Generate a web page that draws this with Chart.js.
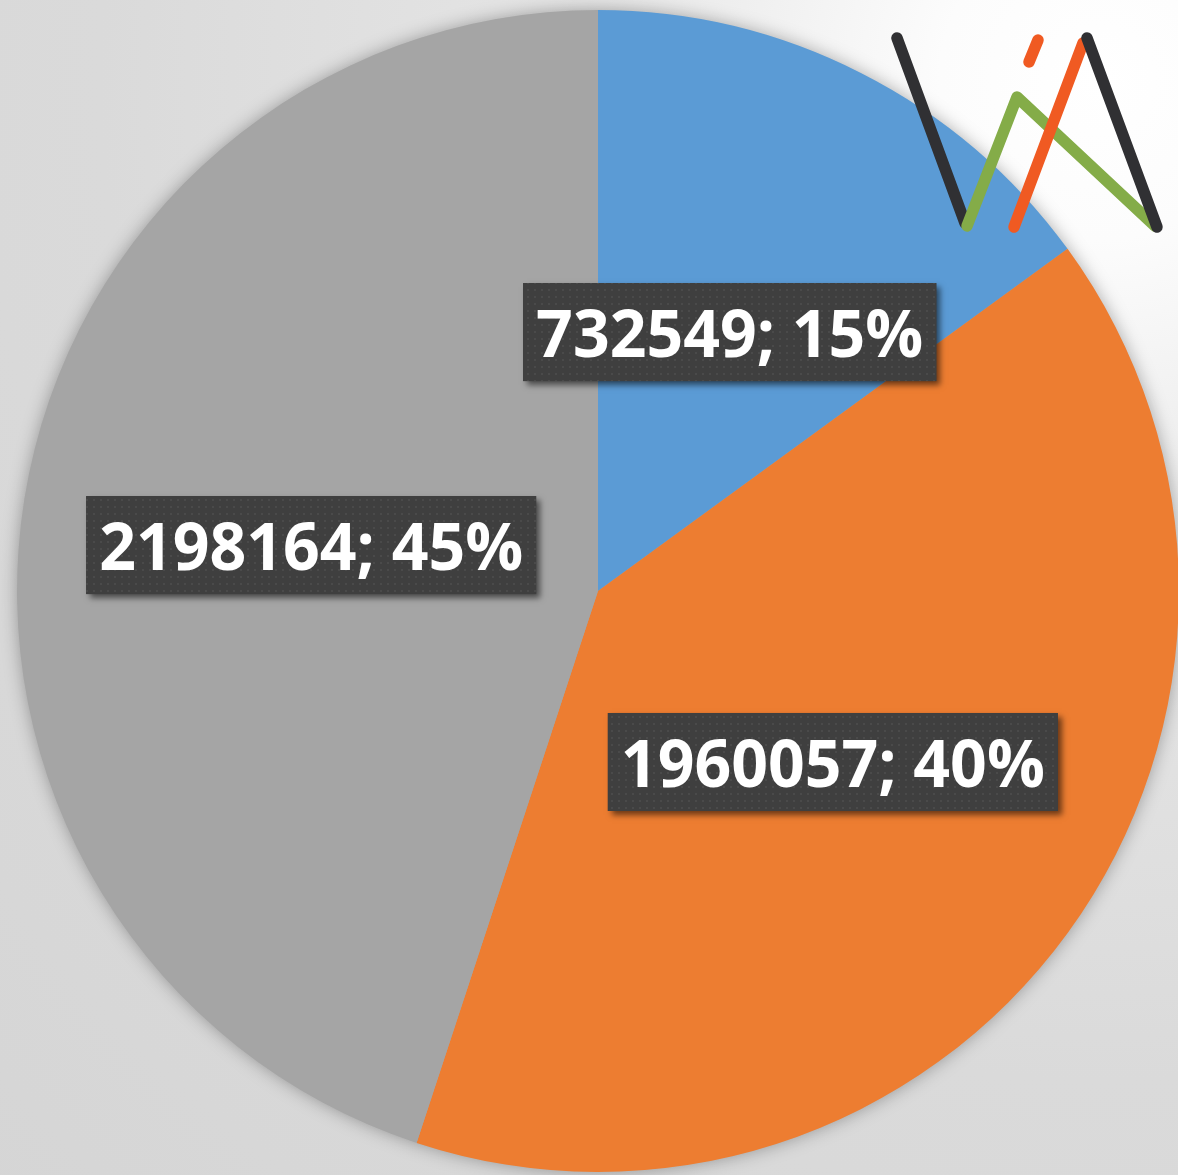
<!DOCTYPE html>
<html>
<head>
<meta charset="utf-8">
<script src="https://cdn.jsdelivr.net/npm/chart.js@4"></script>
<style>
  html, body { margin: 0; padding: 0; overflow: hidden; }
  body { width: 1178px; height: 1175px; }
  .pie-wrap {
    position: relative;
    width: 1196px;
    height: 1175px;
    background: radial-gradient(circle at 1100px 80px, #ffffff 0px, #fcfcfc 160px, #e5e5e5 520px, #dadada 1000px, #d5d5d5 1600px);
  }
  .logo { position: absolute; left: 0; top: 0; pointer-events: none; }
</style>
</head>
<body>
<div class="pie-wrap">
  <canvas id="myChart"></canvas>
  <svg class="logo" width="1178" height="260" viewBox="0 0 1178 260">
    <g fill="none" stroke-width="11.5" stroke-linecap="round" stroke-linejoin="round">
      <line x1="897" y1="38" x2="965" y2="223" stroke="#303033"/>
      <polyline points="967,226 1017,97 1155,226" stroke="#84ac48"/>
      <line x1="1038" y1="40" x2="1029" y2="62" stroke="#f05a22"/>
      <line x1="1014" y1="227" x2="1083" y2="43" stroke="#f05a22"/>
      <line x1="1087" y1="38" x2="1157" y2="227" stroke="#303033"/>
    </g>
  </svg>
</div>
<script>
const categories = ['A', 'B', 'C'];
const values = [732549, 1960057, 2198164];
const sliceColors = ['#5b9bd5', '#ed7d31', '#a5a5a5'];

// dotted dark fill for the data label boxes
const makeDotPattern = (ctx) => {
  const tile = document.createElement('canvas');
  tile.width = 7;
  tile.height = 7;
  const t = tile.getContext('2d');
  t.fillStyle = '#3f3f3f';
  t.fillRect(0, 0, 7, 7);
  t.fillStyle = '#4a4a4a';
  t.fillRect(2, 2, 2, 2);
  return ctx.createPattern(tile, 'repeat');
};

// soft shadow behind the whole pie
const pieShadow = {
  id: 'pieShadow',
  beforeDatasetsDraw(chart) {
    const arc = chart.getDatasetMeta(0).data[0];
    if (!arc) return;
    const ctx = chart.ctx;
    ctx.save();
    ctx.shadowColor = 'rgba(0, 0, 0, 0.35)';
    ctx.shadowBlur = 18;
    ctx.fillStyle = '#a5a5a5';
    ctx.beginPath();
    ctx.arc(arc.x, arc.y, arc.outerRadius - 1, 0, Math.PI * 2);
    ctx.fill();
    ctx.restore();
  }
};

const valueLabels = {
  id: 'valueLabels',
  afterDatasetsDraw(chart) {
    const ctx = chart.ctx;
    const meta = chart.getDatasetMeta(0);
    const total = values.reduce((a, b) => a + b, 0);
    const pattern = makeDotPattern(ctx);
    const squeeze = 0.96; // narrower glyphs, closer to Calibri
    ctx.save();
    ctx.font = 'bold 67px "Open Sans"';
    meta.data.forEach((arc, i) => {
      const pos = arc.tooltipPosition();
      const text = values[i] + '; ' + Math.round(values[i] / total * 100) + '%';
      const w = ctx.measureText(text).width * squeeze;
      const boxW = w + 26;
      const boxH = 98;
      const bx = pos.x - boxW / 2;
      const by = pos.y - boxH / 2;

      ctx.save();
      ctx.shadowColor = 'rgba(0, 0, 0, 0.55)';
      ctx.shadowBlur = 6;
      ctx.shadowOffsetX = 4;
      ctx.shadowOffsetY = 4;
      ctx.fillStyle = '#3f3f3f';
      ctx.fillRect(bx, by, boxW, boxH);
      ctx.restore();
      ctx.fillStyle = pattern;
      ctx.fillRect(bx, by, boxW, boxH);

      ctx.save();
      ctx.translate(pos.x, pos.y + 25);
      ctx.scale(squeeze, 1);
      ctx.fillStyle = '#ffffff';
      ctx.textAlign = 'center';
      ctx.textBaseline = 'alphabetic';
      ctx.fillText(text, 0, 0);
      ctx.restore();
    });
    ctx.restore();
  }
};

new Chart('myChart', {
  type: 'pie',
  data: {
    labels: categories,
    datasets: [{
      data: values,
      backgroundColor: sliceColors,
      borderWidth: 0,
      hoverOffset: 0,
      offset: 0
    }]
  },
  options: {
    responsive: true,
    maintainAspectRatio: false,
    animation: false,
    events: [],
    layout: {
      padding: { left: 17, right: 17, top: 10, bottom: 3 }
    },
    plugins: {
      legend: { display: false },
      tooltip: { enabled: false }
    }
  },
  plugins: [pieShadow, valueLabels]
});
</script>
</body>
</html>
